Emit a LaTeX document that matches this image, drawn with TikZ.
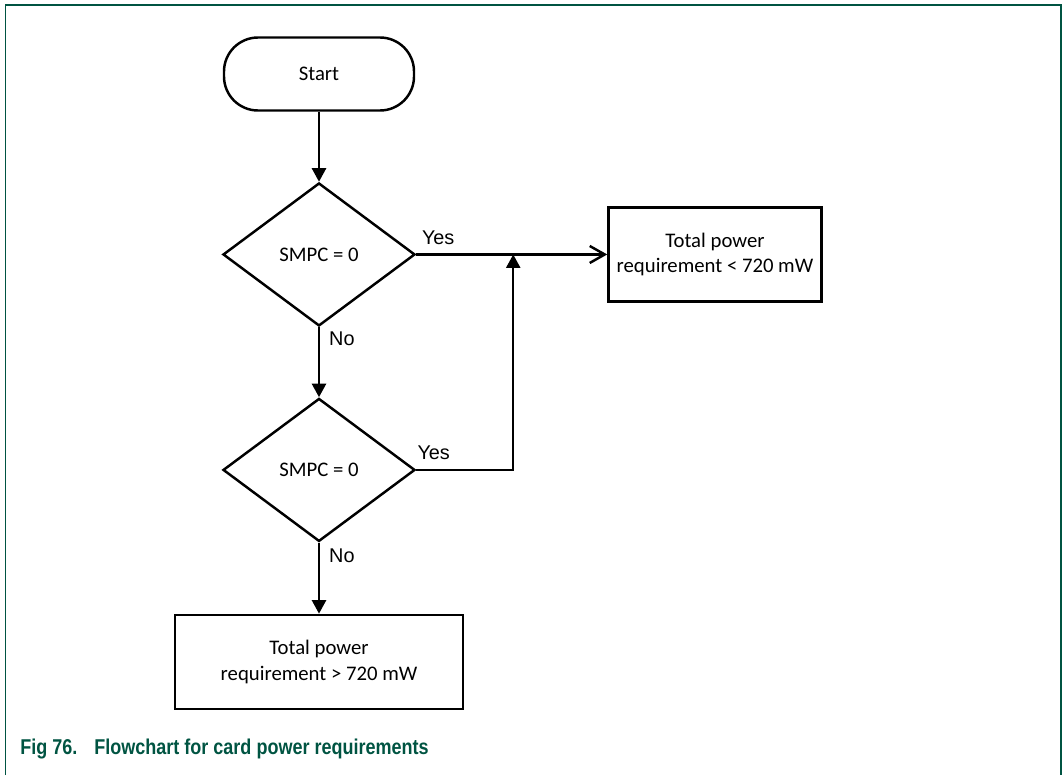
\documentclass[tikz,border=0pt]{standalone}
\usepackage{fontspec}
\setmainfont{Carlito}
\newfontfamily\answerfont{Liberation Sans}
\newfontfamily\captionfont{Liberation Sans}[FakeStretch=0.84]
\usepackage{xcolor}
\usepackage{tikz}
\usetikzlibrary{arrows.meta,positioning,shapes.geometric}
\definecolor{FigGreen}{RGB}{0,84,66}

\begin{document}
\begin{tikzpicture}[
node distance=1.4cm and 3.82cm,
every node/.style={font=\fontsize{11.8}{14.7}\selectfont},
terminal/.style={
draw,
line width=1.4pt,
rounded corners=0.68cm,
minimum width=3.8cm,
minimum height=1.46cm
},
decision/.style={
draw,
diamond,
line width=1.4pt,
inner sep=0pt,
minimum width=3.84cm,
minimum height=2.86cm
},
result/.style={
draw,
line width=1.4pt,
minimum height=1.88cm,
align=center
},
answer/.style={font=\answerfont\fontsize{11.3}{13}\selectfont,inner sep=0.18cm},
arrow/.style={-{Triangle[length=0.27cm,width=0.28cm]},line width=1.4pt},
openarrow/.style={-{Straight Barb[length=0.3cm,width=0.34cm]},line width=1.4pt}
]
\useasboundingbox (0,0) rectangle (21.28,-15.5);
\draw[FigGreen,line width=0.8pt] (0.11,-15.5) -- (0.11,-0.1) -- (21.22,-0.1) -- (21.22,-15.5);

\node[terminal] (start) at (6.38,-1.48) {Start};
\node[decision,below=of start] (test1) {SMPC = 0};
\node[decision,below=1.4cm of test1] (test2) {SMPC = 0};
\node[result,below=1.42cm of test2,minimum width=5.76cm] (high) {Total power\\requirement > 720 mW};
\node[result,right=of test1,minimum width=4.26cm] (low) {Total power\\requirement < 720 mW};
\coordinate[right=1.94cm of test1.east] (merge);

\draw[arrow] (start) -- (test1);
\draw[arrow] (test1) -- node[answer,right,pos=0.16]{\answerfont No} (test2);
\draw[arrow] (test2) -- node[answer,right,pos=0.18]{\answerfont No} (high);
\draw[openarrow] (test1) -- node[answer,above,pos=0.115]{\answerfont Yes} (low);
\draw[arrow] (test2.east) -| node[answer,above,pos=0.09]{\answerfont Yes} (merge);

\node[anchor=base west,inner sep=0pt,text=FigGreen,
font=\captionfont\bfseries\fontsize{12.2}{14}\selectfont] (caption) at (0.4,-15.08)
{Fig 76.\hspace{0.34cm}Flowchart for card power requirements};
\end{tikzpicture}
\end{document}
